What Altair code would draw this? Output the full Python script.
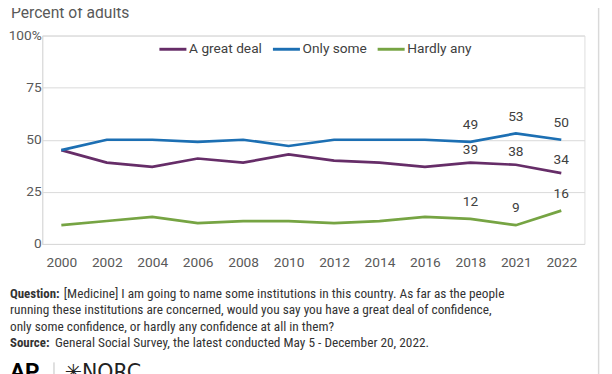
import altair as alt
import pandas as pd

# ---------------- data ----------------
years = ["2000", "2002", "2004", "2006", "2008", "2010", "2012", "2014", "2016", "2018", "2021", "2022"]
great_deal = [45, 39, 37, 41, 39, 43, 40, 39, 37, 39, 38, 34]
only_some = [45, 50, 50, 49, 50, 47, 50, 50, 50, 49, 53, 50]
hardly_any = [9, 11, 13, 10, 11, 11, 10, 11, 13, 12, 9, 16]
series = ["A great deal", "Only some", "Hardly any"]
colors = ["#662d68", "#1c6fb3", "#76a443"]
labeled_years = ["2018", "2021", "2022"]
y_ticks = [0, 25, 50, 75, 100]

title_text = "Percent of adults"
q_bold = "Question:"
q_lines = [
    "[Medicine] I am going to name some institutions in this country. As far as the people",
    "running these institutions are concerned, would you say you have a great deal of confidence,",
    "only some confidence, or hardly any confidence at all in them?",
]
s_bold = "Source:"
s_text = "General Social Survey, the latest conducted May 5 - December 20, 2022."

rows = []
for name, vals in zip(series, [great_deal, only_some, hardly_any]):
    for yr, v in zip(years, vals):
        rows.append({"year": yr, "series": name, "value": v, "lab": yr in labeled_years})
df = pd.DataFrame(rows)

# ---------------- layout (page px) ----------------
PL, PT = 43, 32          # plot left / top on page
W, H = 554, 213
FONT = "Roboto"
NARROW = "Liberation Sans Narrow, Roboto Condensed, Arial Narrow, Roboto"
FOOT_SIZE = 13.6
BOLD_SIZE = 13.2


def px(x):
    return x - PL


def py(y):
    return y - PT


x_enc = alt.X(
    "year:N", sort=years,
    scale=alt.Scale(type="point", padding=0.4647, align=0.452),
    axis=alt.Axis(title=None, labelAngle=0, ticks=False, grid=False, domain=True,
                  domainColor="#d9d9d9", labelFont=FONT, labelFontSize=14,
                  labelColor="#595959", labelPadding=12),
)
y_enc = alt.Y(
    "value:Q", scale=alt.Scale(domain=[0, 100]),
    axis=alt.Axis(title=None, values=y_ticks, ticks=False, domainColor="#d9d9d9",
                  gridColor="#d9d9d9", labelFont=FONT, labelFontSize=14,
                  labelColor="#595959", labelPadding=1,
                  labelExpr="datum.value == 100 ? '100%' : datum.label"),
)
color_enc = alt.Color(
    "series:N", sort=series,
    scale=alt.Scale(domain=series, range=colors),
    legend=alt.Legend(title=None, orient="none", direction="horizontal",
                      legendX=161.0 - PL, legendY=48.3 - PT - 18,
                      symbolType="stroke", symbolSize=762, symbolStrokeWidth=3,
                      labelFont=FONT, labelFontSize=14, labelColor="#404040",
                      labelOffset=1, columnPadding=4),
)

base = alt.Chart(df)
lines = base.mark_line(strokeWidth=2.75).encode(x=x_enc, y=y_enc, color=color_enc)

lab_great = base.transform_filter(
    (alt.datum.lab == True) & (alt.datum.series == series[0])
).mark_text(dy=-13, font=FONT, fontSize=14, color="#404040").encode(
    x=alt.X("year:N", sort=years), y="value:Q", text="value:Q")
lab_other = base.transform_filter(
    (alt.datum.lab == True) & (alt.datum.series != series[0])
).mark_text(dy=-17, font=FONT, fontSize=14, color="#404040").encode(
    x=alt.X("year:N", sort=years), y="value:Q", text="value:Q")

one = pd.DataFrame({"k": [0]})


def txt(s, x, y, **kw):
    return alt.Chart(one).mark_text(text=s, align="left", **kw).encode(
        x=alt.value(px(x)), y=alt.value(py(y)))


title = txt(title_text, 11, 14, baseline="alphabetic", font=FONT, fontSize=16, color="#595959")

foot = [
    txt(q_bold, 10, 296, baseline="middle", font=NARROW, fontSize=BOLD_SIZE, fontWeight="bold", color="#333333"),
    txt(q_lines[0], 65, 296, baseline="middle", font=NARROW, fontSize=FOOT_SIZE, color="#333333"),
    txt(q_lines[1], 10, 313, baseline="middle", font=NARROW, fontSize=FOOT_SIZE, color="#333333"),
    txt(q_lines[2], 10, 329.5, baseline="middle", font=NARROW, fontSize=FOOT_SIZE, color="#333333"),
    txt(s_bold, 10, 346, baseline="middle", font=NARROW, fontSize=BOLD_SIZE, fontWeight="bold", color="#333333"),
    txt(s_text, 56, 346, baseline="middle", font=NARROW, fontSize=FOOT_SIZE, color="#333333"),
    txt("AP", 10, 383, baseline="alphabetic", font=FONT, fontSize=23, fontWeight="bold", color="#000000"),
    txt("\u2733NORC", 66, 383, baseline="alphabetic", font="DejaVu Sans", fontSize=21, color="#222222"),
]

sep = alt.Chart(one).mark_rule(color="#bfbfbf", strokeWidth=1).encode(
    x=alt.value(px(55)), y=alt.value(py(366)), y2=alt.value(py(390)))
frame = alt.Chart(one).mark_rule(color="#d9d9d9", strokeWidth=1.5).encode(
    x=alt.value(px(611.5)), y=alt.value(-60), y2=alt.value(420))

chart = alt.layer(lines, lab_great, lab_other, title, *foot, sep, frame).properties(
    width=W, height=H,
    autosize=alt.AutoSizeParams(type="none"),
    padding={"left": PL - 8, "top": PT - 8, "right": 20, "bottom": 140},
).configure_view(stroke=None).configure(background="white")

chart.save("out.html", embed_options={"renderer": "svg", "actions": False})
